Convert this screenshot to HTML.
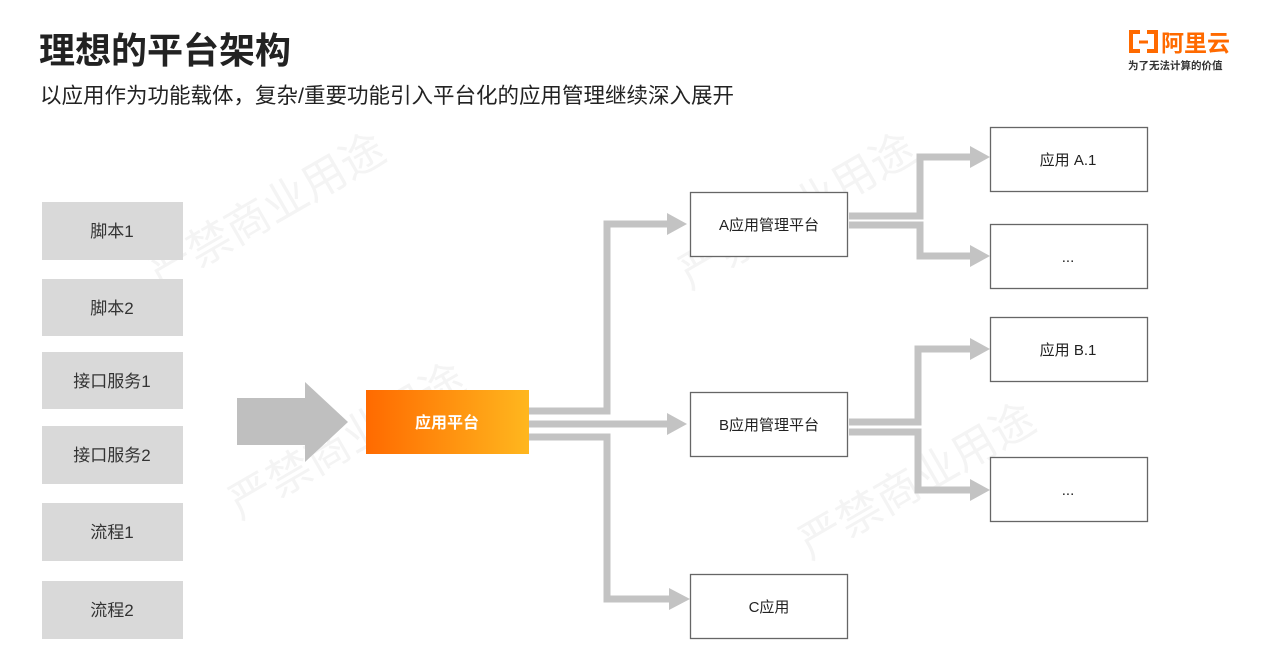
<!DOCTYPE html>
<html><head><meta charset="utf-8"><style>
body{margin:0;width:1268px;height:660px;background:#fff;overflow:hidden;font-family:"Liberation Sans","Noto Sans CJK SC",sans-serif}
</style></head><body>
<svg width="1268" height="660" viewBox="0 0 1268 660" xmlns="http://www.w3.org/2000/svg" style="font-family:'Liberation Sans','Noto Sans CJK SC',sans-serif">
<defs><linearGradient id="g" x1="0" x2="1"><stop offset="0" stop-color="#ff6a00"/><stop offset="1" stop-color="#ffb71e"/></linearGradient></defs>
<g fill="#f4f4f4" font-size="44">
<text transform="translate(160,290) rotate(-30)">严禁商业用途</text>
<text transform="translate(240,520) rotate(-30)">严禁商业用途</text>
<text transform="translate(690,290) rotate(-30)">严禁商业用途</text>
<text transform="translate(810,560) rotate(-30)">严禁商业用途</text>
</g>
<text x="39" y="63" font-size="36" font-weight="bold" fill="#222">理想的平台架构</text>
<text x="40" y="103" font-size="21.5" fill="#222">以应用作为功能载体，复杂/重要功能引入平台化的应用管理继续深入展开</text>
<g transform="translate(1128,30)">
<path d="M12 2 H3 V21 H12 M19 2 H28 V21 H19" fill="none" stroke="#ff6a00" stroke-width="4"/>
<rect x="11" y="10.5" width="9" height="3" fill="#ff6a00"/>
<text x="33" y="21" font-size="23" font-weight="bold" fill="#ff6a00">阿里云</text>
<text x="0" y="39" font-size="10.5" font-weight="bold" fill="#333">为了无法计算的价值</text>
</g>
<g fill="#d9d9d9">
<rect x="42" y="202" width="141" height="58"/><rect x="42" y="279" width="141" height="57"/>
<rect x="42" y="352" width="141" height="57"/><rect x="42" y="426" width="141" height="58"/>
<rect x="42" y="503" width="141" height="58"/><rect x="42" y="581" width="141" height="58"/>
</g>
<g font-size="17" fill="#333" text-anchor="middle">
<text x="112" y="237">脚本1</text><text x="112" y="314">脚本2</text><text x="112" y="387">接口服务1</text>
<text x="112" y="461">接口服务2</text><text x="112" y="538">流程1</text><text x="112" y="616">流程2</text>
</g>
<polygon points="237,398 305,398 305,382 348,422 305,462 305,445 237,445" fill="#bfbfbf"/>
<rect x="366" y="390" width="163" height="64" fill="url(#g)"/>
<text x="447" y="428" font-size="16" font-weight="bold" fill="#fff" text-anchor="middle">应用平台</text>
<g fill="none" stroke="#c3c3c3" stroke-width="7">
<path d="M529 411 H607 V224 H670"/><path d="M529 424 H670"/><path d="M529 437 H607 V599 H672"/>
<path d="M849 216 H920 V157 H972"/><path d="M849 225 H920 V256 H972"/>
<path d="M849 422 H918 V349 H972"/><path d="M849 432 H918 V490 H972"/>
</g>
<g fill="#c3c3c3">
<polygon points="667,213 687,224 667,235"/><polygon points="667,413 687,424 667,435"/><polygon points="669,588 690,599 669,610"/>
<polygon points="970,146 990,157 970,168"/><polygon points="970,245 990,256 970,267"/>
<polygon points="970,338 990,349 970,360"/><polygon points="970,479 990,490 970,501"/>
</g>
<g fill="#fff" stroke="#666" stroke-width="1.3">
<rect x="690.5" y="192.5" width="157" height="64"/><rect x="690.5" y="392.5" width="157" height="64"/><rect x="690.5" y="574.5" width="157" height="64"/>
<rect x="990.5" y="127.5" width="157" height="64"/><rect x="990.5" y="224.5" width="157" height="64"/>
<rect x="990.5" y="317.5" width="157" height="64"/><rect x="990.5" y="457.5" width="157" height="64"/>
</g>
<g font-size="15" fill="#222" text-anchor="middle">
<text x="769" y="230">A应用管理平台</text><text x="769" y="430">B应用管理平台</text><text x="769" y="612">C应用</text>
<text x="1068" y="165">应用 A.1</text><text x="1068" y="262">...</text>
<text x="1068" y="355">应用 B.1</text><text x="1068" y="495">...</text>
</g>
</svg>
</body></html>
